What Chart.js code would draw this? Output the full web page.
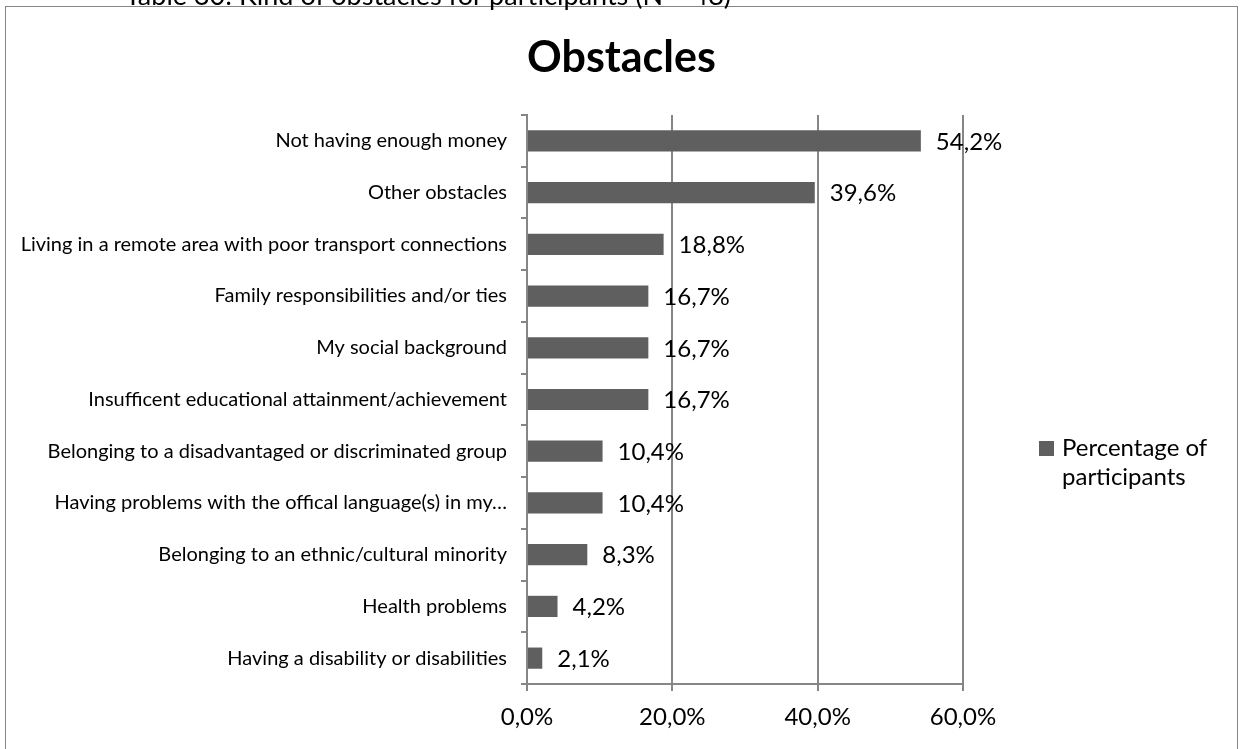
<!DOCTYPE html>
<html>
<head>
<meta charset="utf-8">
<title>Obstacles</title>
<script src="https://cdn.jsdelivr.net/npm/chart.js@4.4.1/dist/chart.umd.min.js"></script>
<style>
    html, body { margin: 0; padding: 0; background: #fff; overflow: hidden; }
    body { width: 1244px; height: 749px; position: relative; font-family: Lato, sans-serif; }
    .caption {
        position: absolute; left: 125px; top: -19px; z-index: 2;
        font-size: 27px; line-height: 27px; color: #000; white-space: nowrap;
    }
    .chart-box {
        position: absolute; left: 5px; top: 6px;
        width: 1231px; height: 760px;
        border: 1px solid #868686;
    }
</style>
</head>
<body>
<div class="caption">Table 30: Kind of obstacles for participants (N = 48)</div>
<div class="chart-box"><canvas id="obstacles-chart" width="1231" height="760"></canvas></div>
<script>
// Obstacles, top to bottom
const categories = [
    'Not having enough money',
    'Other obstacles',
    'Living in a remote area with poor transport connections',
    'Family responsibilities and/or ties',
    'My social background',
    'Insufficent educational attainment/achievement',
    'Belonging to a disadvantaged or discriminated group',
    'Having problems with the offical language(s) in my\u2026',
    'Belonging to an ethnic/cultural minority',
    'Health problems',
    'Having a disability or disabilities'
];
const percentages = [54.2, 39.6, 18.8, 16.7, 16.7, 16.7, 10.4, 10.4, 8.3, 4.2, 2.1];
const seriesName = 'Percentage of participants';
const chartTitle = 'Obstacles';
const xTickValues = [0, 20, 40, 60];

const barColor = '#5f5f5f';
const gridColor = '#868686';

// 54.2 -> "54,2%"
const pct = (v) => v.toFixed(1).replace('.', ',') + '%';

// Title centred over the whole canvas (the legend column is not part of the plot)
const centeredTitle = {
    id: 'centeredTitle',
    afterDraw(chart) {
        const ctx = chart.ctx;
        ctx.save();
        ctx.font = 'bold 43px Lato';
        ctx.fillStyle = '#000';
        ctx.textAlign = 'center';
        ctx.textBaseline = 'middle';
        ctx.fillText(chartTitle, chart.width / 2, 51);
        ctx.restore();
    }
};

// Value labels at the end of each bar
const valueLabels = {
    id: 'valueLabels',
    afterDatasetsDraw(chart) {
        const ctx = chart.ctx;
        const meta = chart.getDatasetMeta(0);
        ctx.save();
        ctx.font = '24px Lato';
        ctx.fillStyle = '#000';
        ctx.textAlign = 'left';
        ctx.textBaseline = 'middle';
        meta.data.forEach((bar, i) => {
            ctx.fillText(pct(chart.data.datasets[0].data[i]), bar.x + 15, bar.y + 1);
        });
        ctx.restore();
    }
};

// Legend box on the right, label wrapped over two lines
const sideLegend = {
    id: 'sideLegend',
    afterDraw(chart) {
        const ctx = chart.ctx;
        const ds = chart.data.datasets[0];
        ctx.save();
        ctx.font = '24px Lato';
        const words = ds.label.split(' ');
        const lines = [];
        let line = '';
        words.forEach((w) => {
            const test = line ? line + ' ' + w : w;
            if (line && ctx.measureText(test).width > 160) {
                lines.push(line);
                line = w;
            } else {
                line = test;
            }
        });
        lines.push(line);

        const x = 1033, y = 441;
        ctx.fillStyle = ds.backgroundColor;
        ctx.fillRect(x, y - 7, 15, 15);
        ctx.fillStyle = '#000';
        ctx.textBaseline = 'middle';
        lines.forEach((l, i) => ctx.fillText(l, x + 23, y + i * 29));
        ctx.restore();
    }
};

const ctx = document.getElementById('obstacles-chart').getContext('2d');

const obstaclesChart = new Chart(ctx, {
    type: 'bar',
    data: {
        labels: categories,
        datasets: [{
            label: seriesName,
            data: percentages,
            backgroundColor: barColor,
            barPercentage: 0.41,
            categoryPercentage: 1.0
        }]
    },
    options: {
        indexAxis: 'y',
        responsive: false,
        animation: false,
        layout: {
            padding: { top: 108, right: 274, bottom: 0, left: 0 }
        },
        plugins: {
            legend: { display: false },
            title: { display: false },
            tooltip: { enabled: false }
        },
        scales: {
            x: {
                min: 0,
                max: 60,
                afterBuildTicks: (scale) => {
                    scale.ticks = xTickValues.map((v) => ({ value: v }));
                },
                afterFit: (scale) => { scale.height = 83; },
                ticks: {
                    color: '#000',
                    font: { family: 'Lato', size: 24 },
                    padding: 12,
                    callback: (v) => pct(v)
                },
                grid: { color: gridColor, lineWidth: 2, tickLength: 7 },
                border: { color: gridColor, width: 2 }
            },
            y: {
                afterFit: (scale) => { scale.width = 521; },
                ticks: {
                    color: '#000',
                    font: { family: 'Lato', size: 20 },
                    padding: 14,
                    autoSkip: false
                },
                grid: {
                    drawOnChartArea: false,
                    offset: true,
                    color: gridColor,
                    lineWidth: 2,
                    tickLength: 6
                },
                border: { color: gridColor, width: 2 }
            }
        }
    },
    plugins: [valueLabels, sideLegend, centeredTitle]
});
</script>
</body>
</html>
